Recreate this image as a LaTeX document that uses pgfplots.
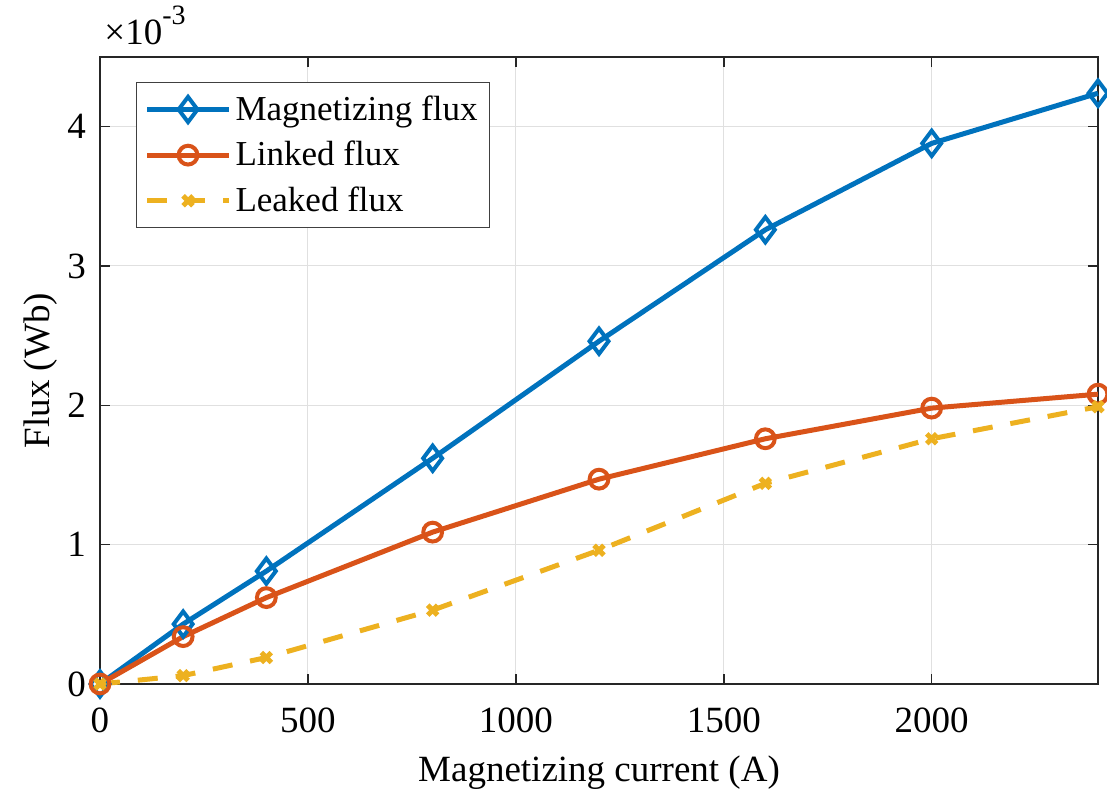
\documentclass[border=0pt]{standalone}
\usepackage{fontspec}
\setmainfont{Liberation Serif}
\usepackage{pgfplots}
\pgfplotsset{compat=1.18}
\definecolor{mblue}{rgb}{0,0.447,0.741}
\definecolor{morange}{rgb}{0.85,0.325,0.098}
\definecolor{myellow}{rgb}{0.929,0.694,0.125}
\newcommand{\fs}{\fontsize{18.5}{22}\selectfont}
\newcommand{\fl}{\fontsize{17.5}{21}\selectfont}
\begin{document}
\begin{tikzpicture}
\begin{axis}[
  scale only axis, width=499pt, height=313.5pt,
  xmin=0, xmax=2400, ymin=0, ymax=4.5,
  xtick={0,500,1000,1500,2000}, ytick={0,1,2,3,4},
  xticklabels={0,500,1000,1500,2000}, yticklabels={0,1,2,3,4},
  grid=major, major grid style={black!12, line width=0.5pt},
  tick align=inside, major tick length=5pt,
  axis line style={black!85, line width=0.8pt},
  every tick/.style={black!85, line width=0.8pt},
  tick label style={font=\fs},
  xticklabel style={yshift=-8.5pt},
  yticklabel style={xshift=-3.5pt},
  xlabel={Magnetizing current (A)}, ylabel={Flux (Wb)},
  every axis x label/.style={at={(axis description cs:0.5,-0.142)}, anchor=center, font=\fs},
  every axis y label/.style={at={(axis description cs:-0.060,0.5)}, rotate=90, anchor=center, font=\fs},
  clip=false,
  legend cell align=left,
  legend style={at={(axis description cs:0.036,0.960)}, anchor=north west,
    font=\fl, draw=black!75, line width=0.6pt, inner xsep=4pt, inner ysep=4.5pt,
    row sep=5pt},
  legend image code/.code={\draw[mark repeat=2,mark phase=2,#1] plot coordinates {(0pt,0pt) (20.5pt,0pt) (41pt,0pt)};},
]
\addplot[color=mblue, line width=2.5pt, mark=diamond, mark size=6.3pt, mark options={solid, line width=2pt}]
  coordinates {(0,0) (200,0.43) (400,0.81) (800,1.62) (1200,2.46) (1600,3.26) (2000,3.88) (2400,4.24)};
\addlegendentry{Magnetizing flux}
\addplot[color=morange, line width=2.5pt, mark=o, mark size=4.7pt, mark options={solid, line width=2pt}]
  coordinates {(0,0) (200,0.34) (400,0.62) (800,1.09) (1200,1.47) (1600,1.76) (2000,1.98) (2400,2.08)};
\addlegendentry{Linked flux}
\addplot[color=myellow, line width=2.5pt, dash pattern=on 10pt off 9pt, mark=x, mark size=3.5pt, mark options={solid, line width=2.5pt}]
  coordinates {(0,0) (200,0.06) (400,0.19) (800,0.53) (1200,0.96) (1600,1.44) (2000,1.76) (2400,1.99)};
\addlegendentry{Leaked flux}
\end{axis}
\node[anchor=base west, font=\fs, inner sep=0pt] at ([shift={(2pt,6pt)}]current axis.north west) {×10\raisebox{0.55em}{\fontsize{14}{16}\selectfont -3}};
\pgfresetboundingbox
\path ([shift={(-50pt,-55pt)}]current axis.south west) rectangle ([shift={(4.5pt,28.5pt)}]current axis.north east);
\end{tikzpicture}
\end{document}
